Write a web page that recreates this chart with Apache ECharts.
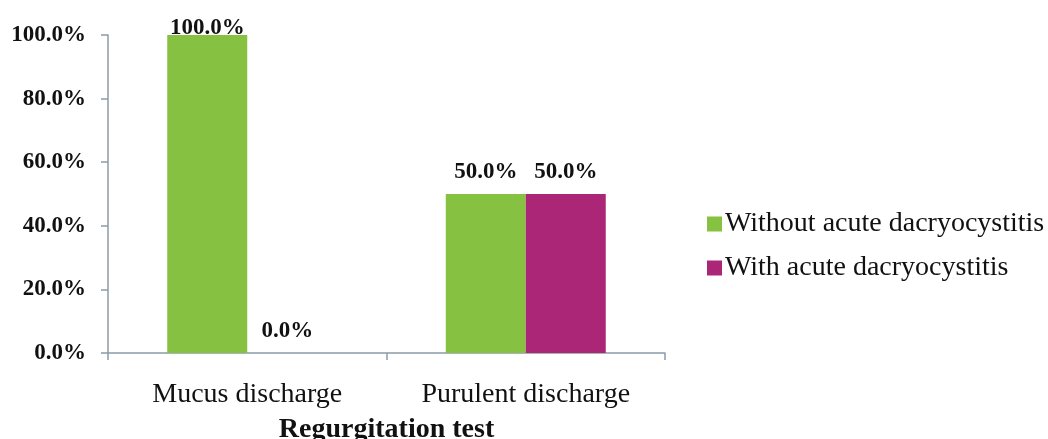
<!DOCTYPE html>
<html>
<head>
<meta charset="utf-8">
<script src="https://cdn.jsdelivr.net/npm/echarts@6/dist/echarts.min.js"></script>
<style>
  html, body { margin: 0; padding: 0; background: #fff; }
  #chart { width: 1048px; height: 439px; }
</style>
</head>
<body>
<div id="chart"></div>
<script>
// Regurgitation test outcomes by group (percent)
const categories = ['Mucus discharge', 'Purulent discharge'];
const seriesNames = ['Without acute dacryocystitis', 'With acute dacryocystitis'];
const withoutAcute = [100.0, 50.0];
const withAcute = [0.0, 50.0];
const yTicks = [0, 20, 40, 60, 80, 100];

const serif = '"Liberation Serif", "Times New Roman", serif';
const axisColor = '#8c9ca8';
const yMax = yTicks[yTicks.length - 1];

const labelStyle = {
  show: true,
  position: 'top',
  distance: 10,
  fontFamily: serif,
  fontWeight: 'bold',
  fontSize: 23,
  color: '#111',
  formatter: p => p.value.toFixed(1) + '%'
};

// labels of full-height bars are tucked down so they stay inside the frame
function barData(values) {
  return values.map(v => v >= yMax ? { value: v, label: { distance: -5 } } : v);
}

const chart = echarts.init(document.getElementById('chart'), null, { renderer: 'canvas' });
chart.setOption({
  animation: false,
  backgroundColor: '#fff',
  grid: { left: 108, right: 383, top: 35, bottom: 86, outerBoundsMode: 'none', containLabel: false },
  legend: {
    orient: 'vertical',
    left: 702,
    top: 205,
    itemWidth: 15,
    itemHeight: 15,
    itemGap: 16,
    icon: 'rect',
    textStyle: { fontFamily: serif, fontSize: 28, color: '#111', padding: [0, 0, 0, -2] },
    data: seriesNames
  },
  xAxis: {
    type: 'category',
    data: categories,
    axisLine: { lineStyle: { color: axisColor, width: 1.5 } },
    axisTick: { show: true, length: 7, lineStyle: { color: axisColor, width: 1.5 } },
    axisLabel: { fontFamily: serif, fontSize: 28, color: '#111', margin: 28 },
    name: 'Regurgitation test',
    nameLocation: 'middle',
    nameGap: 63,
    nameTextStyle: { fontFamily: serif, fontSize: 28, fontWeight: 'bold', color: '#111' }
  },
  yAxis: {
    type: 'value',
    min: yTicks[0],
    max: yMax,
    interval: yTicks[1] - yTicks[0],
    splitLine: { show: false },
    axisLine: { show: true, lineStyle: { color: axisColor, width: 1.5 } },
    axisTick: { show: true, length: 7, lineStyle: { color: axisColor, width: 1.5 } },
    axisLabel: {
      fontFamily: serif, fontSize: 23, fontWeight: 'bold', color: '#111', margin: 22,
      formatter: v => v.toFixed(1) + '%'
    }
  },
  series: [
    {
      name: seriesNames[0],
      type: 'bar',
      data: barData(withoutAcute),
      barWidth: 80,
      barGap: '0%',
      itemStyle: { color: '#86c142' },
      label: labelStyle
    },
    {
      name: seriesNames[1],
      type: 'bar',
      data: barData(withAcute),
      barWidth: 80,
      barGap: '0%',
      itemStyle: { color: '#ab2677' },
      label: labelStyle
    }
  ]
});
</script>
</body>
</html>
